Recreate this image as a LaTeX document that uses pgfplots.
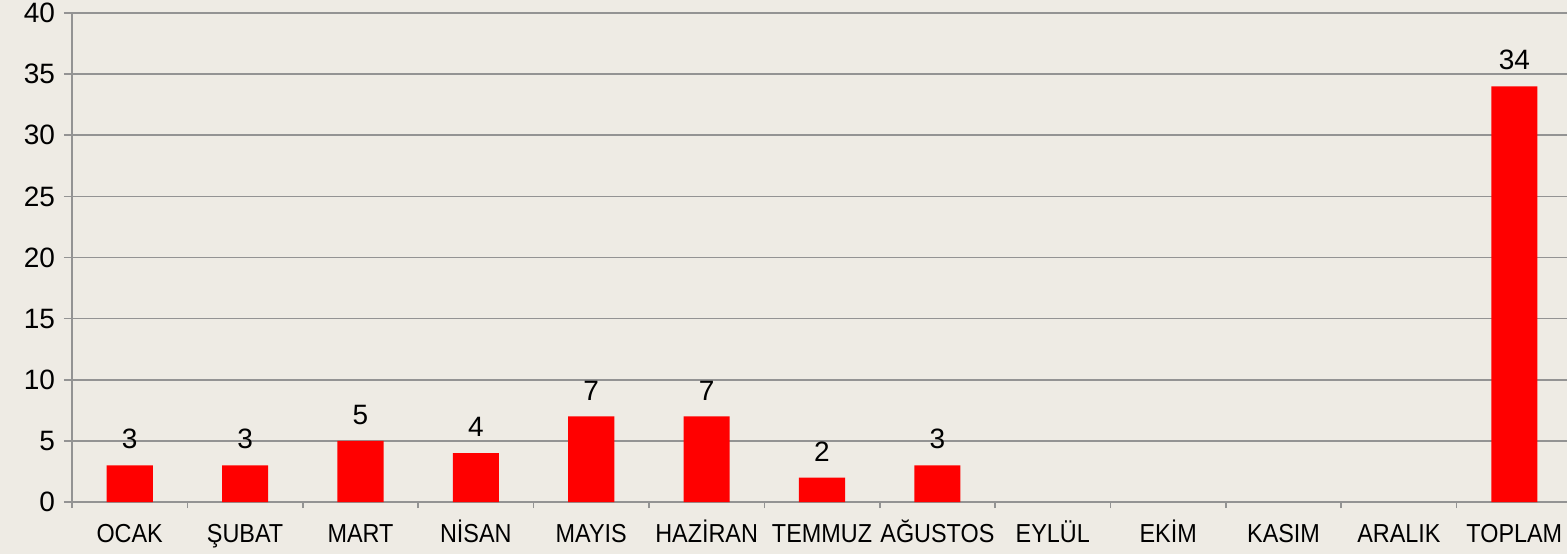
\documentclass[border=0pt]{standalone}
\usepackage{pgfplots}
\pgfplotsset{compat=1.18}
\usepackage{fontspec}
\setmainfont{Liberation Sans}
\definecolor{bg}{HTML}{EEEBE4}
\definecolor{gridc}{HTML}{939393}
\definecolor{barred}{HTML}{FF0000}

\begin{document}
\begin{tikzpicture}
\fill[bg] (-36pt,-26pt) rectangle (747.5pt,251pt);
\begin{axis}[
    at={(0,0)}, anchor=south west,
    scale only axis,
    width=750pt, height=244.5pt,
    xmin=-0.5, xmax=12.5,
    ymin=0, ymax=40,
    ytick={0,5,...,40},
    xtick={0,...,12},
    xticklabels={OCAK,ŞUBAT,MART,NİSAN,MAYIS,HAZİRAN,TEMMUZ,AĞUSTOS,EYLÜL,EKİM,KASIM,ARALIK,TOPLAM},
    minor xtick={-0.5,0.5,...,11.5},
    major x tick style={draw=none},
    minor x tick style={gridc, line width=0.8pt},
    y tick style={gridc, line width=0.8pt},
    tick align=outside,
    major tick length=4pt,
    minor tick length=3pt,
    axis x line*=bottom,
    axis y line*=left,
    axis line style={gridc, line width=0.9pt, -},
    ymajorgrids,
    grid style={gridc, line width=0.8pt},
    /pgf/number format/assume math mode=true,
    yticklabel style={font=\fontsize{14}{16}\selectfont, xshift=-1pt},
    xticklabel style={font=\fontsize{13}{15}\selectfont, xscale=0.9,
        anchor=base, text depth=0pt, yshift=-16pt},
    ybar, bar width=0.4,
    nodes near coords,
    nodes near coords style={font=\fontsize{14}{16}\selectfont, anchor=south, inner sep=0pt, yshift=8pt},
    clip=false,
]
\addplot[fill=barred, draw=none] coordinates {
    (0,3) (1,3) (2,5) (3,4) (4,7) (5,7) (6,2) (7,3) (12,34)
};
\end{axis}
\pgfresetboundingbox
\useasboundingbox (-36pt,-26pt) rectangle (747.5pt,251pt);
\end{tikzpicture}
\end{document}
